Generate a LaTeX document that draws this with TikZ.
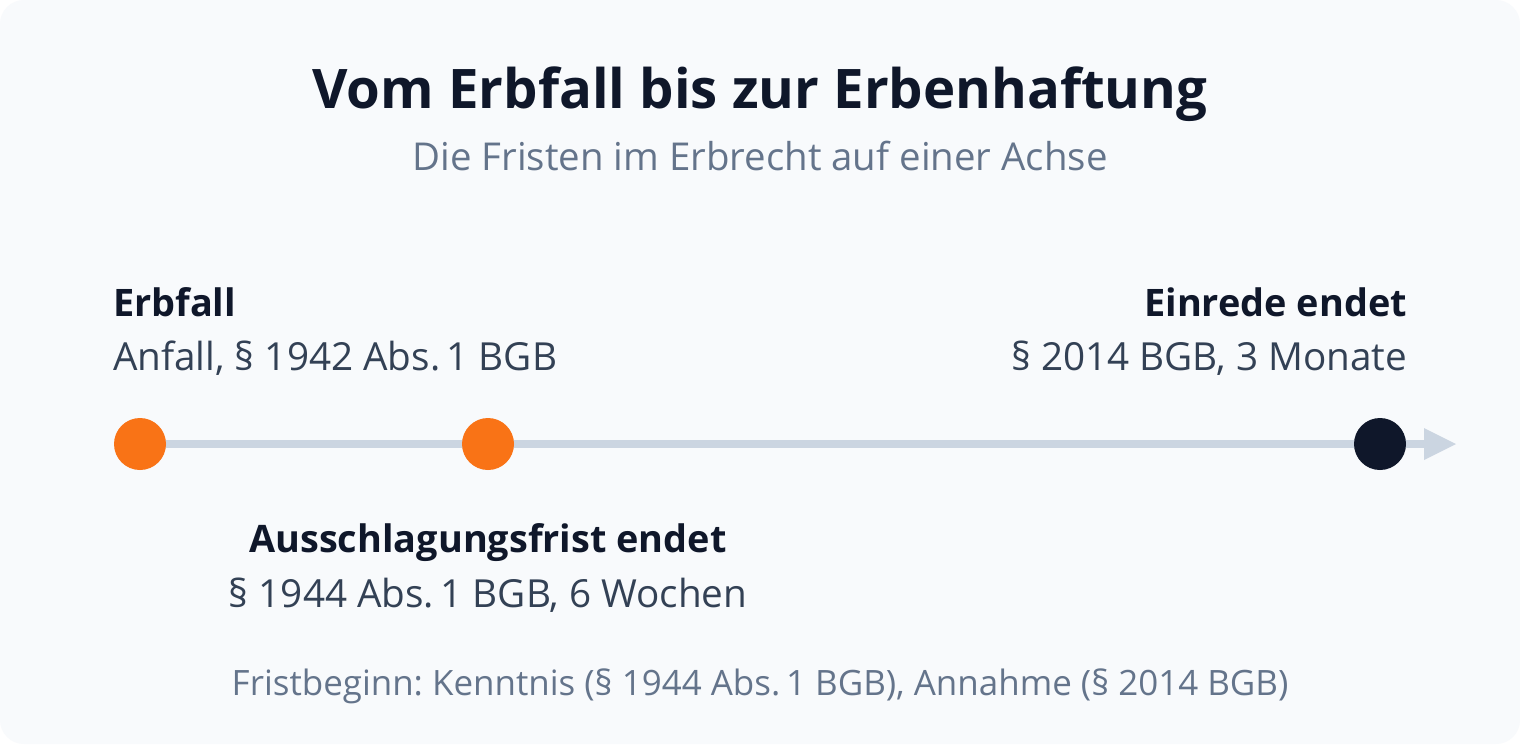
\documentclass[tikz,border=0pt]{standalone}
\usepackage{fontspec}
\setmainfont{Open Sans}
\frenchspacing
\definecolor{bgc}{HTML}{F8FAFC}
\definecolor{ink}{HTML}{0F172A}
\definecolor{slate}{HTML}{64748B}
\definecolor{body}{HTML}{334155}
\definecolor{axis}{HTML}{CBD5E1}
\definecolor{orange}{HTML}{F97316}
\begin{document}
\begin{tikzpicture}[x=0.75pt,y=-0.75pt,
  every node/.style={inner sep=0pt,outer sep=0pt},
  title/.style={font=\fontsize{40.9pt}{48pt}\selectfont\bfseries,text=ink},
  subtitle/.style={font=\fontsize{28.8pt}{32pt}\selectfont,text=slate},
  head/.style={font=\fontsize{28.4pt}{32pt}\selectfont\bfseries,text=ink},
  detail/.style={font=\fontsize{29pt}{32pt}\selectfont,text=body},
  foot/.style={font=\fontsize{26.2pt}{30pt}\selectfont,text=slate},
  dot/.style={circle,minimum size=39pt}]
\useasboundingbox (0,0) rectangle (1520,744);
\fill[white] (0,0) rectangle (1520,744);
\fill[bgc,rounded corners=18pt] (0,0) rectangle (1520,744);
\node[title,anchor=base] (t) at (760,108) {Vom Erbfall bis zur Erbenhaftung};
\node[subtitle,anchor=base] (st) at (760,170) {Die Fristen im Erbrecht auf einer Achse};
\coordinate (end) at (1424,444);
\draw[axis,line width=6pt] (140,444) -- (end);
\fill[axis] (1424,428) -- (1456,444) -- (1424,460) -- cycle;
\node[dot,fill=orange] (a) at (140,444) {};
\node[dot,fill=orange] (b) at (488,444) {};
\node[dot,fill=ink] (c) at (1380,444) {};
\node[head,anchor=base west] (ah) at (113,316) {Erbfall};
\node[detail,anchor=base west] (ad) at (113,370) {Anfall, § 1942 Abs.\,1 BGB};
\node[head,anchor=base] (bh) at (488,552) {Ausschlagungsfrist endet};
\node[detail,anchor=base] (bd) at (488,607) {§ 1944 Abs.\,1 BGB, 6 Wochen};
\node[head,anchor=base east] (ch) at (1407,316) {Einrede endet};
\node[detail,anchor=base east] (cd) at (1407,370) {§ 2014 BGB, 3 Monate};
\node[foot,anchor=base] (f) at (760,695) {Fristbeginn: Kenntnis (§ 1944 Abs.\,1 BGB), Annahme (§ 2014 BGB)};
\end{tikzpicture}
\end{document}
